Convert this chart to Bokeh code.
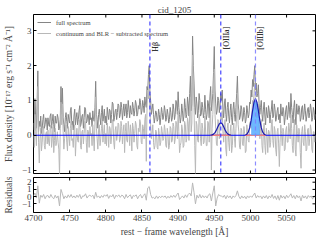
import numpy as np
from bokeh.plotting import figure
from bokeh.layouts import column
from bokeh.models import (Range1d, LinearAxis, FixedTicker, CustomJSTickFormatter,
                          Span, ColumnDataSource, Legend, LegendItem)
from bokeh.embed import file_html
from bokeh.resources import INLINE

# ---------------- data ----------------
wave = np.arange(4700, 5091, 1)      # rest-frame wavelength grid [A], spectra
wave_res = np.arange(4700, 5091, 2)  # grid of the residuals

full_spectrum = [
    0.35, 0.15, 1.05, 0.5, 0.2, 0.9, 1.85, 0.1, 0.4, 0.25, 0.55, 0.05, 0.2, 0.45, 0.6, 0.2, 0.3, 0.5, 0.45, 0.15,
    0.5, 0.3, 0.25, 0.55, 0.62, 0.2, 0.4, 0.6, 0.3, 0.1, 0.55, 0.35, 0.35, 0.6, 0.5, 0.15, 0.2, 0.45, 1.4, 0.6,
    1.35, 0.5, 0.3, 0.1, 0.5, 0.65, 0.4, 0.2, 0.6, 0.45, 0.35, 0.7, 0.8, 0.3, 0.4, 0.15, 0.55, 0.75, 0.3, 0.5,
    0.65, 0.3, 0.45, 0.7, 0.85, 0.25, 0.35, 0.55, 0.6, 0.2, 0.5, 0.8, 0.75, 0.35, 0.4, 0.6, 0.55, 0.3, 0.65, 0.45,
    0.5, 0.25, 0.7, 0.45, 0.4, 0.8, 1.55, 0.6, 0.45, 0.2, 0.6, 0.75, 0.5, 0.3, 0.65, 0.85, 0.4, 0.55, 0.75, 0.35,
    0.55, 0.3, 0.8, 0.6, 0.45, 0.75, 0.7, 0.35, 0.6, 0.95, 0.9, 0.4, 0.5, 0.7, 0.75, 0.45, 0.65, 0.9, 0.85, 0.5,
    0.6, 0.95, 0.8, 0.45, 0.7, 0.9, 0.55, 0.75, 0.9, 0.5, 0.65, 1.0, 0.75, 0.5, 0.85, 0.65, 0.6, 0.95, 0.8, 0.55,
    0.7, 1.0, 0.9, 0.55, 0.6, 0.85, 0.75, 1.05, 0.95, 0.6, 0.7, 1.0, 0.85, 0.65, 1.1, 0.9, 0.8, 1.4, 1.3, 1.75,
    2.0, 1.2, 1.0, 0.6, 0.75, 0.9, 0.6, 0.35, 0.5, 0.7, 0.65, 0.4, 0.45, 0.75, 0.6, 0.3, 0.5, 0.8, 0.65, 0.45,
    0.55, 0.85, 0.7, 0.4, 0.5, 0.75, 0.6, 0.35, 0.45, 0.8, 0.65, 0.4, 0.5, 0.9, 0.75, 0.45, 0.6, 1.0, 0.9, 0.6,
    1.25, 0.8, 0.6, 0.35, 0.5, 0.9, 0.7, 0.4, 0.55, 1.05, 0.8, 0.5, 0.6, 1.1, 0.9, 0.55, 1.2, 1.7, 0.7, 0.9,
    2.85, 2.0, 1.5, 0.8, 0.6, 1.1, 0.9, 0.5, 0.7, 1.2, 1.0, 0.55, 0.6, 0.95, 0.8, 0.5, 0.65, 1.15, 0.75, 0.45,
    0.6, 1.0, 0.9, 0.5, 1.1, 1.4, 0.7, 0.9, 1.2, 1.8, 2.55, 1.3, 0.9, 0.6, 0.7, 1.1, 1.0, 0.65, 0.85, 1.2,
    1.0, 1.3, 0.75, 0.5, 0.9, 1.05, 0.6, 0.4, 0.8, 0.95, 0.55, 0.35, 0.7, 0.9, 0.5, 0.3, 0.75, 0.95, 0.6, 0.4,
    0.8, 1.2, 1.7, 0.9, 0.7, 0.45, 0.55, 0.85, 0.75, 0.4, 0.5, 0.8, 0.65, 0.35, 0.45, 0.85, 0.7, 0.5, 0.6, 0.95,
    0.9, 1.3, 1.1, 1.6, 1.4, 1.75, 2.0, 1.3, 1.5, 1.1, 1.2, 1.45, 0.9, 0.6, 0.8, 1.0, 0.6, 0.4, 0.75, 0.95,
    0.55, 0.3, 0.8, 0.6, 0.5, 0.85, 0.7, 0.35, 0.6, 0.75, 1.0, 0.5, 0.55, 0.9, 0.75, 0.4, 0.5, 0.7, 0.8, 0.45,
    0.6, 0.35, 0.9, 0.6, 0.55, 0.8, 0.7, 0.3, 0.5, 0.75, 0.85, 0.45, 0.6, 0.95, 0.75, 0.5, 1.2, 0.8, 0.6, 0.35,
    0.8, 1.0, 0.55, 0.3, 0.9, 0.65, 0.6, 0.85, 0.75, 0.4, 0.5, 0.8, 0.85, 0.45, 0.6, 0.9, 0.7, 0.4, 0.55, 0.75,
    0.8, 0.5, 0.65, 0.9, 0.75, 0.4, 0.5, 0.8, 0.7, 0.45, 0.6,
]

subtracted_spectrum = [
    0.0, -0.35, 0.6, 0.1, -0.3, 0.5, 1.4, -0.2, -0.8, -0.1, 0.2, -0.45, -0.2, 0.15, 0.25, -0.3, -0.4, 0.05, 0.1, -0.25,
    0.15, -0.2, -0.3, 0.2, 0.3, -0.35, -0.1, 0.25, -0.5, -0.15, 0.2, -0.3, -0.2, 0.1, -0.2, -0.4, -1.15, 0.2, 0.95, 0.3,
    0.9, 0.1, -0.4, -0.1, 0.1, 0.3, -0.2, -0.45, 0.25, 0.0, -0.3, 0.2, 0.4, -0.15, -0.1, -0.35, 0.15, 0.3, -0.6, -0.1,
    0.2, -0.15, -0.2, 0.3, 0.45, -0.3, -0.4, 0.1, 0.15, -0.25, 0.05, 0.4, 0.35, -0.2, -0.5, 0.15, 0.1, -0.35, 0.25, 0.0,
    0.05, -0.3, 0.3, -0.05, -0.45, 0.4, 1.1, 0.2, -0.1, -0.4, 0.15, 0.3, -0.3, -0.1, 0.2, 0.4, -0.2, 0.05, 0.3, -0.25,
    0.05, -0.3, 0.35, 0.1, -0.35, 0.25, 0.2, -0.25, -0.05, 0.45, 0.4, -0.2, -0.4, 0.15, 0.25, -0.15, 0.0, 0.35, 0.3, -0.2,
    -0.1, 0.4, 0.25, -0.25, 0.1, 0.3, -0.5, 0.1, 0.35, -0.15, -0.2, 0.4, 0.15, -0.3, 0.3, 0.05, -0.45, 0.35, 0.2, -0.2,
    0.05, 0.4, 0.3, -0.3, -0.4, 0.2, 0.1, 0.45, 0.35, -0.2, -0.25, 0.3, 0.2, -0.1, 0.45, 0.6, -0.75, 0.8, 1.3, 1.05,
    1.4, 0.7, 0.3, -0.1, 0.05, 0.3, -0.2, -0.4, -0.3, 0.15, 0.1, -0.35, -0.4, 0.2, 0.05, -0.3, -0.2, 0.25, 0.1, -0.15,
    -0.1, 0.3, 0.15, -0.3, -0.35, 0.2, 0.05, -0.4, -0.3, 0.25, 0.2, -0.2, -0.15, 0.35, 0.25, -0.25, -0.1, 0.4, 0.3, -0.1,
    0.7, 0.1, -0.5, -0.3, -0.2, 0.3, 0.15, -0.35, -0.3, 0.4, 0.3, -0.2, -0.1, 0.5, 0.35, -0.15, 0.65, 1.1, 0.1, 0.35,
    2.3, 1.5, 0.8, -0.3, -1.1, 0.4, 0.3, -0.15, -0.2, 0.6, 0.45, -0.1, -0.3, 0.35, 0.2, -0.25, -0.2, 0.55, 0.15, -0.3,
    -0.3, 0.4, 0.35, -0.2, 0.5, 0.8, -1.0, 0.2, 0.6, 1.2, 1.9, 0.6, 0.2, -0.25, -0.3, 0.45, 0.4, -0.1, 0.3, 0.55,
    0.45, 0.7, 0.1, -0.2, 0.3, 0.45, -0.4, -0.6, 0.2, 0.35, -0.2, -0.45, 0.1, 0.3, -0.5, -0.3, 0.15, 0.35, -0.1, -0.35,
    0.2, 0.6, 1.2, 0.3, 0.1, -0.35, -0.4, 0.2, 0.15, -0.25, -0.3, 0.25, 0.05, -0.5, -0.45, 0.3, 0.1, -0.15, -0.2, 0.35,
    0.4, 0.2, 0.6, 1.0, 0.9, 1.2, 1.5, 0.8, 1.0, 0.5, 0.6, 0.9, 0.3, -0.1, 0.2, 0.45, -0.3, -0.5, 0.15, 0.35,
    -0.3, -0.55, 0.2, 0.0, -0.5, 0.15, 0.1, -0.35, -0.2, 0.3, 0.45, -0.15, -0.35, 0.25, 0.15, -0.4, -0.6, 0.1, 0.2, -0.25,
    -0.9, -0.2, 0.3, 0.05, -0.3, 0.2, 0.1, -0.45, -0.4, 0.15, 0.25, -0.2, -0.2, 0.35, 0.15, -0.1, 0.6, 0.2, -0.3, -0.5,
    0.2, 0.45, -0.4, -0.6, 0.3, 0.05, -0.2, 0.2, 0.1, -0.5, -0.95, 0.1, 0.25, -0.2, -0.3, 0.3, 0.1, -0.45, -0.4, 0.15,
    0.2, -0.3, -0.1, 0.3, 0.15, -0.4, -0.5, 0.1, 0.1, -0.2, 0.0,
]

residuals = [
    0.1, 0.5, -0.2, 1.5, -0.9, 0.2, -0.1, 0.3, -0.3, 0.1,
    0.15, -0.2, 0.3, -0.1, -0.3, 0.2, -0.2, 0.1, -1.3, 1.0,
    0.4, -0.3, 0.1, -0.2, 0.25, -0.1, 0.3, -0.15, 0.1, -0.2,
    0.2, -0.1, 0.3, -0.3, 0.1, 0.05, 0.4, -0.2, 0.1, 0.2,
    0.0, 0.2, -0.3, 0.6, -0.1, 0.1, -0.2, 0.15, -0.1, 0.25,
    0.05, 0.3, -0.25, 0.15, -0.05, 0.3, -0.3, 0.2, 0.0, 0.25,
    -0.1, 0.2, 0.1, -0.3, 0.3, -0.15, 0.1, 0.25, -0.3, 0.15,
    0.05, 0.25, -0.3, 0.1, 0.3, -0.2, 0.15, 0.4, -0.5, 1.2,
    1.4, 0.3, -0.2, -0.1, -0.3, 0.1, -0.25, 0.05, -0.15, 0.1,
    -0.1, 0.1, -0.25, 0.05, -0.2, 0.15, -0.1, 0.2, -0.1, 0.25,
    0.5, -0.4, -0.15, 0.1, -0.2, 0.25, -0.1, 0.3, 0.5, 0.1,
    1.9, 0.6, -1.0, 0.2, -0.2, 0.3, -0.2, 0.15, -0.15, 0.1,
    -0.2, 0.25, 0.4, -0.6, 0.5, 1.5, -1.3, -0.2, 0.3, 0.1,
    0.1, -0.1, 0.2, -0.3, 0.15, -0.15, 0.1, -0.3, 0.1, -0.1,
    0.15, 0.8, 0.05, -0.3, 0.1, -0.2, 0.05, -0.3, 0.1, -0.15,
    0.1, -0.1, 0.2, 0.5, -0.2, 0.15, -0.1, 0.1, -0.3, 0.1,
    -0.2, 0.15, -0.3, 0.1, -0.15, 0.3, -0.25, 0.1, -0.4, 0.15,
    -0.5, 0.2, -0.2, 0.1, -0.3, 0.2, -0.15, 0.1, 0.4, -0.2,
    0.15, -0.3, 0.2, -0.15, 0.1, -0.6, 0.2, -0.2, 0.1, -0.3,
    0.15, -0.1, 0.1, -0.35, 0.1, 0.0,
]

# narrow [OIII] gaussian model components
oiii_a_wave = [4945, 4947, 4949, 4951, 4953, 4955, 4957, 4959, 4961, 4963, 4965, 4967, 4969, 4971, 4973]
oiii_a_flux = [0.003, 0.010, 0.031, 0.074, 0.148, 0.243, 0.326, 0.36, 0.326, 0.243, 0.148, 0.074, 0.031, 0.010, 0.003]
oiii_b_wave = [4993, 4995, 4997, 4999, 5001, 5003, 5005, 5007, 5009, 5011, 5013, 5015, 5017, 5019, 5021]
oiii_b_flux = [0.008, 0.030, 0.089, 0.216, 0.432, 0.708, 0.951, 1.05, 0.951, 0.708, 0.432, 0.216, 0.089, 0.030, 0.008]
second_comp = [0.0] * 15          # second (null) component, drawn in red
fill_range = (5001, 5013)         # shaded part of [OIII]b

line_names = ["Hβ", "[OIIIa]", "[OIIIb]"]
line_centers = [4861, 4959, 5007]
label_top = [2.68, 3.12, 3.12]

x_ticks = [4700, 4750, 4800, 4850, 4900, 4950, 5000, 5050]
y_ticks_top = [-1, 0, 1, 2, 3]
y_ticks_bot = [-1, 0, 1, 2]

# ---------------- style ----------------
FONT = "Liberation Serif"
DARK = "#858585"
LIGHT = "#b8b8b8"
minus_fmt = CustomJSTickFormatter(code="return tick.toString().replace('-', '\u2212')")

X0, X1 = 4700, 5090
x_range = Range1d(X0, X1)


def style_axis(ax, ticks):
    ax.ticker = FixedTicker(ticks=ticks)
    ax.major_tick_in = 3
    ax.major_tick_out = 0
    ax.minor_tick_line_color = None
    ax.axis_line_color = None
    ax.major_tick_line_color = "black"
    ax.major_label_text_font = FONT
    ax.major_label_text_font_size = "9px"
    ax.major_label_standoff = 2
    ax.axis_label_text_font = FONT
    ax.axis_label_text_font_style = "normal"
    ax.axis_label_text_font_size = "9.5px"
    ax.formatter = minus_fmt


def edge_ticks(fig, xt, yt, y0, y1, bottom_edge=True):
    # inward tick marks on the frame edges that carry no labelled axis
    # (half of each dash is clipped away by the frame)
    fig.scatter(xt, [y1] * len(xt), marker="dash", angle=np.pi / 2, size=6,
                line_color="black", line_width=1)
    if bottom_edge:
        fig.scatter(xt, [y0] * len(xt), marker="dash", angle=np.pi / 2, size=6,
                    line_color="black", line_width=1)
    fig.scatter([X1] * len(yt), yt, marker="dash", size=6,
                line_color="black", line_width=1)


# ---------------- top panel ----------------
Y0, Y1 = -1.1, 3.47
p = figure(width=316, height=175, x_range=x_range,
           y_range=Range1d(Y0, Y1), output_backend="svg",
           toolbar_location=None, x_axis_location=None, y_axis_location=None,
           min_border_left=28, min_border_right=1, min_border_top=14, min_border_bottom=2)
p.title.text = "cid_1205"
p.title.align = "center"
p.title.text_font = FONT
p.title.text_font_style = "normal"
p.title.text_font_size = "9px"
p.title.standoff = 0
p.title.offset = 0
p.grid.visible = False
p.outline_line_color = "black"
p.outline_line_width = 1

left = LinearAxis(axis_label="Flux density [10⁻¹⁷ erg s⁻¹ cm⁻² Å⁻¹]")
style_axis(left, y_ticks_top)
left.axis_label_standoff = 5
p.add_layout(left, "left")

r_full = p.line(wave, full_spectrum, color=DARK, line_width=1)
r_sub = p.line(wave, subtracted_spectrum, color=LIGHT, line_width=1)

# zero level of the fitted narrow-line model
p.line([X0, X1], [0, 0], color="blue", line_width=1.2)
p.line(oiii_a_wave, second_comp, color="#f08080", line_width=1.6)
p.line(oiii_b_wave, second_comp, color="#f08080", line_width=1.6)

fill_w = [w for w in oiii_b_wave if fill_range[0] <= w <= fill_range[1]]
fill_f = [f for w, f in zip(oiii_b_wave, oiii_b_flux) if fill_range[0] <= w <= fill_range[1]]
p.varea(x=fill_w, y1=[0.0] * len(fill_w), y2=fill_f, fill_color="#55aaff", fill_alpha=0.85)
p.line(oiii_a_wave, oiii_a_flux, color="#1a1ab0", line_width=1.2)
p.line(oiii_b_wave, oiii_b_flux, color="#1a1ab0", line_width=1.2)

for c, col in zip(line_centers, ["#3030ff", "#3030ff", "#8080ff"]):
    p.add_layout(Span(location=c, dimension="height", line_color=col,
                      line_dash="4 3", line_width=1.2, line_alpha=0.9))

lab_src = ColumnDataSource(dict(x=line_centers, y=label_top, t=line_names))
p.text(x="x", y="y", text="t", source=lab_src, angle=np.pi / 2,
       text_align="right", text_baseline="top", x_offset=1,
       text_font={"value": FONT}, text_font_size={"value": "8px"}, text_color="black")

edge_ticks(p, x_ticks, y_ticks_top, Y0, Y1)

legend = Legend(items=[LegendItem(label="full spectrum", renderers=[r_full]),
                       LegendItem(label="continuum and BLR − subtracted spectrum", renderers=[r_sub])],
                location="top_left")
legend.label_text_font = FONT
legend.label_text_font_size = "6.5px"
legend.glyph_width = 14
legend.glyph_height = 8
legend.label_height = 8
legend.spacing = 3
legend.padding = 2
legend.margin = 4
legend.border_line_color = None
legend.background_fill_alpha = 0
p.add_layout(legend)

# ---------------- residual panel ----------------
R0, R1 = -2.2, 2.65
q = figure(width=316, height=64, x_range=x_range,
           y_range=Range1d(R0, R1), output_backend="svg",
           toolbar_location=None, x_axis_location=None, y_axis_location=None,
           min_border_left=28, min_border_right=1, min_border_top=2, min_border_bottom=0)
q.grid.visible = False
q.outline_line_color = "black"
ql = LinearAxis(axis_label="Residuals")
style_axis(ql, y_ticks_bot)
ql.axis_label_standoff = 5
q.add_layout(ql, "left")
qb = LinearAxis(axis_label="rest − frame wavelength [Å]")
style_axis(qb, x_ticks)
qb.axis_label_standoff = 3
q.add_layout(qb, "below")
q.line(wave_res, residuals, color=LIGHT, line_width=1)
edge_ticks(q, x_ticks, y_ticks_bot, R0, R1, bottom_edge=False)

layout = column(p, q, spacing=0)
open("out.html", "w").write(file_html(layout, INLINE))
